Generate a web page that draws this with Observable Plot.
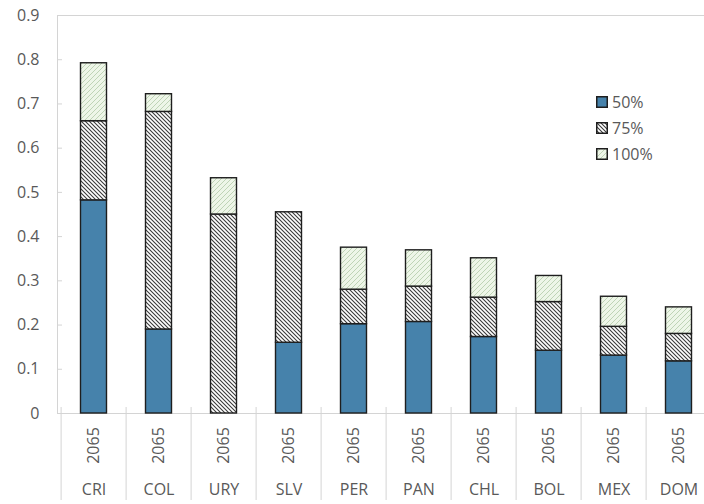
<!DOCTYPE html>
<html>
<head>
<meta charset="utf-8">
<script src="https://cdn.jsdelivr.net/npm/d3@7"></script>
<script src="https://cdn.jsdelivr.net/npm/@observablehq/plot@0.6"></script>
<style>
  html, body { margin: 0; padding: 0; background: #fff; overflow: hidden; }
  #wrap { position: relative; width: 704px; height: 504px; overflow: hidden; }
  #legend { position: absolute; left: 596px; top: 89px; font-family: "Open Sans", sans-serif; font-size: 16px; color: #595959; }
  #legend .row { display: flex; align-items: center; height: 26px; }
  #legend svg { margin-right: 4px; }
</style>
</head>
<body>
<svg width="0" height="0" style="position:absolute">
  <defs>
    <pattern id="p75" patternUnits="userSpaceOnUse" width="4" height="4">
      <rect width="4" height="4" fill="#ffffff"></rect>
      <path d="M-1,-1 L5,5 M-1,3 L1,5 M3,-1 L5,1" stroke="#3a3a3a" stroke-width="1.1"></path>
    </pattern>
    <pattern id="p100" patternUnits="userSpaceOnUse" width="5" height="5">
      <rect width="5" height="5" fill="#eef6e8"></rect>
      <path d="M-1,6 L6,-1 M-1,1 L1,-1 M4,6 L6,4" stroke="#bfd4b6" stroke-width="1"></path>
    </pattern>
  </defs>
</svg>
<div id="wrap">
  <div id="chart"></div>
  <div id="legend"></div>
</div>
<script>
const countries = ["CRI","COL","URY","SLV","PER","PAN","CHL","BOL","MEX","DOM"];
const yearLabel = "2065";
const levels = ["50%","75%","100%"];
const v50  = [0.482,0.190,0.000,0.160,0.202,0.207,0.173,0.142,0.131,0.118];
const v75  = [0.179,0.492,0.450,0.295,0.078,0.080,0.089,0.110,0.065,0.062];
const v100 = [0.131,0.040,0.082,0.000,0.095,0.082,0.089,0.059,0.068,0.060];
const yTicks = [0,0.1,0.2,0.3,0.4,0.5,0.6,0.7,0.8,0.9];

const fills = ["#4682ab","url(#p75)","url(#p100)"];
const series = [v50, v75, v100];
const data = [];
countries.forEach((c, i) => {
  levels.forEach((l, j) => data.push({country: c, level: l, value: series[j][i]}));
});

const width = 720, height = 504;
const mL = 57, mR = 5, mT = 15, mB = 91;
const bw = (width - mL - mR) / countries.length;
const frameH = height - mT - mB;
const frameW = width - mL - mR;
const font = "'Open Sans', sans-serif";

const chart = Plot.plot({
  width, height,
  marginLeft: mL, marginRight: mR, marginTop: mT, marginBottom: mB,
  style: {fontFamily: font, fontSize: "16px", color: "#595959", background: "#fff", maxWidth: "none", overflow: "hidden"},
  x: {domain: countries, padding: 0, axis: null},
  y: {domain: [0, 0.9], axis: null},
  color: {domain: levels, range: fills, type: "ordinal"},
  marks: [
    Plot.frame({stroke: "#d4d4d4"}),
    Plot.ruleY(yTicks, {y: d => d, stroke: "#d4d4d4", insetRight: frameW - 5}),
    Plot.text(yTicks, {y: d => d, text: d => d === 0 ? "0" : d.toFixed(1), frameAnchor: "left", textAnchor: "end", dx: -18, fill: "#595959", fontSize: 16}),
    Plot.ruleX(countries, {x: d => d, dx: -bw / 2, stroke: "#d4d4d4", insetTop: frameH - 6, insetBottom: -87}),
    Plot.barY(data, {x: "country", y: "value", fill: "level", stroke: "#1e1e1e", strokeWidth: 1.4, insetLeft: 19.5, insetRight: 19.5}),
    Plot.text(countries, {x: d => d, text: () => yearLabel, frameAnchor: "bottom", dy: 32, rotate: -90, textAnchor: "middle", lineAnchor: "middle", fill: "#595959", fontSize: 16}),
    Plot.text(countries, {x: d => d, text: d => d, frameAnchor: "bottom", dy: 76, textAnchor: "middle", lineAnchor: "middle", fill: "#595959", fontSize: 16})
  ]
});
document.getElementById("chart").appendChild(chart);

const legend = document.getElementById("legend");
levels.forEach((l, j) => {
  const row = document.createElement("div");
  row.className = "row";
  row.innerHTML = `<svg width="12" height="12"><rect x="0.75" y="0.75" width="10.5" height="10.5" fill="${fills[j]}" stroke="#1e1e1e" stroke-width="1.5"></rect></svg><span>${l}</span>`;
  legend.appendChild(row);
});
</script>
</body>
</html>
